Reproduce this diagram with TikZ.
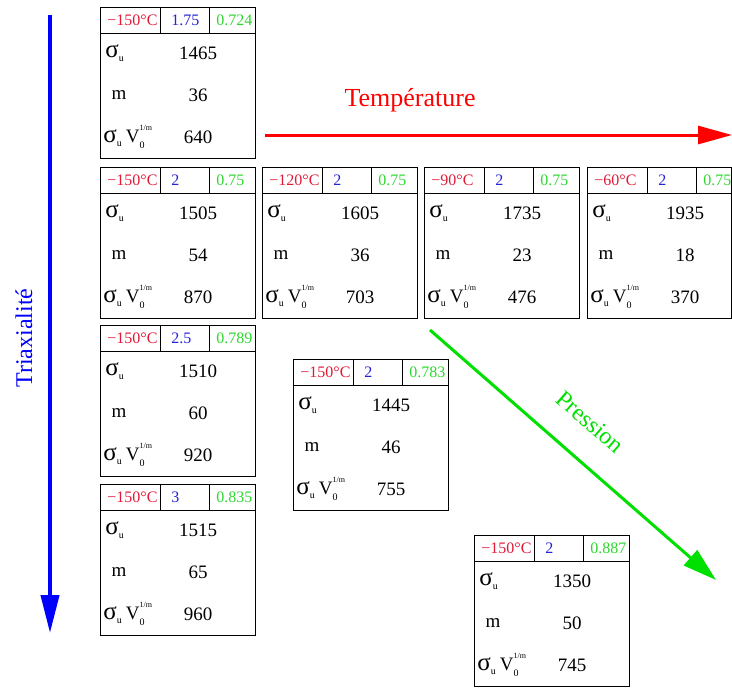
\documentclass[tikz,border=0pt]{standalone}
\usepackage{fontspec}
\setmainfont{Liberation Serif}
\usetikzlibrary{arrows.meta,calc,positioning}
\definecolor{tempred}{RGB}{225,25,55}
\definecolor{triblue}{RGB}{35,35,215}
\definecolor{presgreen}{RGB}{45,215,45}
\newcommand{\sigu}{{\fontsize{12.5}{12.5}\selectfont σ}\raisebox{-0.5ex}{\fontsize{5}{5}\selectfont u}}
\newcommand{\sigv}{\sigu\hspace{2pt}V\rlap{\raisebox{-0.7ex}{\fontsize{5}{5}\selectfont 0}}\raisebox{1.3ex}{\fontsize{4}{4}\selectfont 1/m}}

\begin{document}
\begin{tikzpicture}[x=0.5pt, y=-0.5pt]
	\tikzstyle{box}=[draw, line width=0.5pt, inner sep=0pt, anchor=north west, minimum height=75.5pt]
	\tikzstyle{hd}=[inner sep=0pt, anchor=west, font=\fontsize{8}{8}\selectfont]
	\tikzstyle{val}=[inner sep=0pt, font=\fontsize{9.5}{9.5}\selectfont]
	\tikzstyle{axis}=[line width=1.5pt, -{Triangle[width=9pt,length=17pt]}]
	\useasboundingbox (0,0) rectangle (732,687);

	% Boxes
	\foreach \nm/\x/\y/\w/\tc/\tx/\pr/\su/\mm/\sv in {
			a/100/7/155/−150°C/1.75/0.724/1465/36/640,
			b1/100/167/155/−150°C/2/0.75/1505/54/870,
			b2/262/167/155/−120°C/2/0.75/1605/36/703,
			b3/424/167/155/−90°C/2/0.75/1735/23/476,
			b4/587/167/144/−60°C/2/0.75/1935/18/370,
			c1/100/325/155/−150°C/2.5/0.789/1510/60/920,
			d1/100/484/155/−150°C/3/0.835/1515/65/960,
			p1/293/359/155/−150°C/2/0.783/1445/46/755,
			p2/474/535/155/−150°C/2/0.887/1350/50/745} {
		\node[box, minimum width={\w*0.5pt}] (b_\nm) at (\x,\y) {};
		\draw[line width=0.5pt] ($(b_\nm.north west)+(0,26)$) -- ($(b_\nm.north east)+(0,26)$);
		\draw[line width=0.5pt] ($(b_\nm.north west)+(60,0)$) -- ++(0,26);
		\draw[line width=0.5pt] ($(b_\nm.north west)+(109,0)$) -- ++(0,26);
		\node[hd, text=tempred] (tc_\nm) at ($(b_\nm.north west)+(7,13)$) {\tc};
		\node[hd, text=triblue] (tx_\nm) at ($(b_\nm.north west)+(71,13)$) {\tx};
		\node[hd, text=presgreen] (pr_\nm) at ($(b_\nm.north west)+(116,13)$) {\pr};
		\node[val, anchor=west] (ls_\nm) at ($(b_\nm.north west)+(5,46)$) {\sigu};
		\node[val] (lm_\nm) at ($(b_\nm.north west)+(19,88)$) {m};
		\node[val, anchor=west] (lv_\nm) at ($(b_\nm.north west)+(3,130)$) {\sigv};
		\node[val] (vs_\nm) at ($(b_\nm.north west)+(98,46)$) {\su};
		\node[val] (vm_\nm) at ($(b_\nm.north west)+(98,88)$) {\mm};
		\node[val] (vv_\nm) at ($(b_\nm.north west)+(98,130)$) {\sv};
	}

	% Axes
	\coordinate (tri_start) at (50,15);
	\coordinate (tri_end) at (50,633);
	\coordinate (temp_start) at (265,135);
	\coordinate (temp_end) at (732,135);
	\coordinate (pres_start) at (430,330);
	\coordinate (pres_end) at (716,580);
	\draw[axis, blue, line width=2pt, -{Triangle[width=9pt,length=19pt]}] (tri_start) -- (tri_end);
	\draw[axis, red] (temp_start) -- (temp_end);
	\draw[axis, green!88!black, -{Triangle[width=10pt,length=17pt]}] (pres_start) -- (pres_end);

	% Text
	\node[red, font=\fontsize{13}{13}\selectfont] (temp_lbl) at (410,100) {Température};
	\node[blue, rotate=90, font=\fontsize{12}{12}\selectfont] (tri_lbl) at (24,338) {Triaxialité};
	\node[green!88!black, rotate=-41, font=\fontsize{12}{12}\selectfont] (pres_lbl) at (590,422) {Pression};
\end{tikzpicture}
\end{document}
